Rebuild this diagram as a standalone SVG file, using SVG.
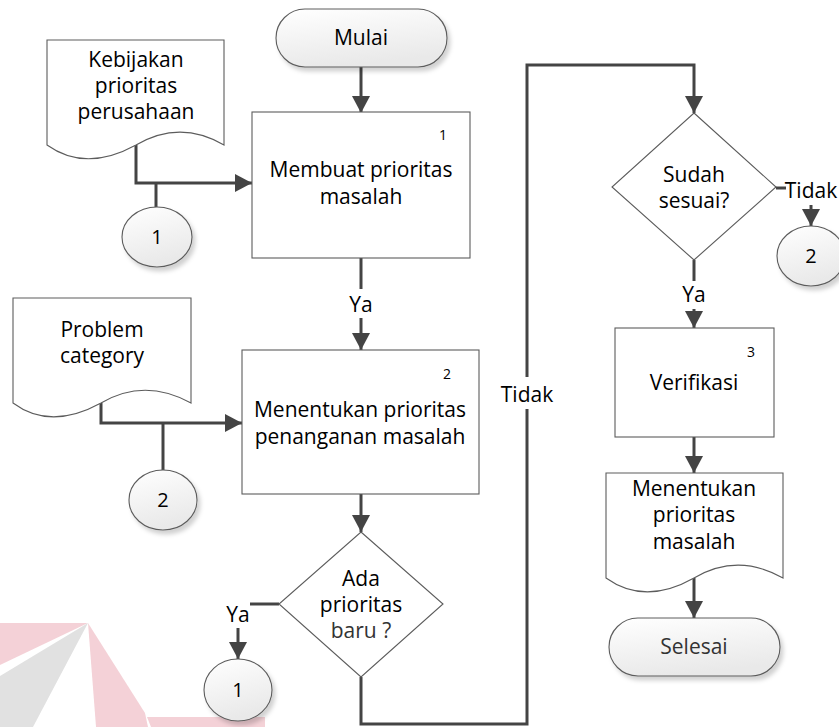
<svg xmlns="http://www.w3.org/2000/svg" width="839" height="727" viewBox="0 0 839 727">
  <defs>
    <linearGradient id="softFill" x1="0" y1="0" x2="0.3" y2="1">
      <stop offset="0" stop-color="#ffffff"/>
      <stop offset="1" stop-color="#e9e9e9"/>
    </linearGradient>
    <filter id="shadow" x="-20%" y="-20%" width="150%" height="160%">
      <feDropShadow dx="3" dy="4" stdDeviation="2" flood-color="#000" flood-opacity="0.18"/>
    </filter>
    <marker id="arrow" markerUnits="userSpaceOnUse" markerWidth="18" markerHeight="18" refX="17" refY="9" orient="auto">
      <path d="M0,0 L17,9 L0,18 Z" fill="#444"/>
    </marker>
  </defs>
  <style>
    .shape { fill: #fff; stroke: #5c5c5c; stroke-width: 1.1; }
    .soft { fill: url(#softFill); stroke: #5c5c5c; stroke-width: 1.1; filter: url(#shadow); }
    .flow { fill: none; stroke: #444; stroke-width: 3; }
    .txt { font-family: "Open Sans", "Liberation Sans", sans-serif; font-size: 21px; fill: #000; text-anchor: middle; }
    .num { font-family: "Open Sans", "Liberation Sans", sans-serif; font-size: 14px; fill: #000; text-anchor: middle; }
    .circ { font-family: "Open Sans", "Liberation Sans", sans-serif; font-size: 20px; fill: #000; text-anchor: middle; }
  </style>

  <!-- faint background logo -->
  <g id="logo" opacity="0.9">
    <polygon points="0,623 88,623 0,665" fill="#f3cdd3"/>
    <polygon points="88,623 0,676 0,727 33,727" fill="#dedede"/>
    <polygon points="88,623 145,713 148,727 96,727" fill="#f3cdd3"/>
    <polygon points="147,717 265,717 265,727 151,727" fill="#f3cdd3"/>
  </g>

  <!-- connectors -->
  <g id="connectors">
    <path class="flow" d="M361,67 V113" marker-end="url(#arrow)"/>
    <path class="flow" d="M136,145 V183 H252" marker-end="url(#arrow)"/>
    <path class="flow" d="M156,183 V207"/>
    <path class="flow" d="M361,258 V289"/>
    <path class="flow" d="M361,318 V350" marker-end="url(#arrow)"/>
    <path class="flow" d="M101,403 V423 H242" marker-end="url(#arrow)"/>
    <path class="flow" d="M163,423 V470"/>
    <path class="flow" d="M361,494 V532" marker-end="url(#arrow)"/>
    <path class="flow" d="M279,604 H250"/>
    <path class="flow" d="M238,628 V659" marker-end="url(#arrow)"/>
    <path class="flow" d="M361,677 V724 H527 V65 H694 V113" marker-end="url(#arrow)"/>
    <path class="flow" d="M776,188 H786"/>
    <path class="flow" d="M811,205 V226" marker-end="url(#arrow)"/>
    <path class="flow" d="M694,260 V281"/>
    <path class="flow" d="M694,309 V328" marker-end="url(#arrow)"/>
    <path class="flow" d="M694,437 V473" marker-end="url(#arrow)"/>
    <path class="flow" d="M694,578 V618" marker-end="url(#arrow)"/>
    <rect x="506" y="377" width="42" height="32" fill="#fff"/>
    <text class="txt" x="361" y="312">Ya</text>
    <text class="txt" x="527" y="402">Tidak</text>
    <text class="txt" x="238" y="622">Ya</text>
    <text class="txt" x="694" y="302">Ya</text>
    <text class="txt" x="811" y="198">Tidak</text>
  </g>

  <g id="start">
    <rect class="soft" x="276" y="9" width="171" height="58" rx="29"/>
    <text class="txt" x="361" y="45">Mulai</text>
  </g>

  <g id="doc-kebijakan">
    <path class="shape" d="M47,40 H224 V145 C195,128 165,128 136,145 C105,162 75,165 47,145 Z"/>
    <text class="txt" x="136" y="67">Kebijakan</text>
    <text class="txt" x="136" y="93">prioritas</text>
    <text class="txt" x="136" y="119">perusahaan</text>
  </g>

  <g id="conn-1a">
    <ellipse class="soft" cx="157" cy="237" rx="35" ry="30"/>
    <text class="circ" x="157" y="244">1</text>
  </g>

  <g id="proc-1">
    <rect class="shape" x="252" y="112" width="218" height="146"/>
    <text class="num" x="443" y="140">1</text>
    <text class="txt" x="361" y="177">Membuat prioritas</text>
    <text class="txt" x="361" y="204">masalah</text>
  </g>

  <g id="doc-problem">
    <path class="shape" d="M13,298 H191 V403 C160,386 130,386 101,403 C70,420 40,423 13,403 Z"/>
    <text class="txt" x="102" y="337">Problem</text>
    <text class="txt" x="102" y="363">category</text>
  </g>

  <g id="conn-2a">
    <ellipse class="soft" cx="163" cy="500" rx="34" ry="30"/>
    <text class="circ" x="163" y="507">2</text>
  </g>

  <g id="proc-2">
    <rect class="shape" x="242" y="350" width="237" height="144"/>
    <text class="num" x="447" y="379">2</text>
    <text class="txt" x="360" y="417">Menentukan prioritas</text>
    <text class="txt" x="360" y="444">penanganan masalah</text>
  </g>

  <g id="dec-1">
    <polygon class="shape" points="361,532 443,604 361,677 279,604"/>
    <text class="txt" x="361" y="586">Ada</text>
    <text class="txt" x="361" y="612">prioritas</text>
    <text class="txt" x="361" y="638" style="fill:#333">baru ?</text>
  </g>

  <g id="conn-1b">
    <ellipse class="soft" cx="238" cy="690" rx="34" ry="31"/>
    <text class="circ" x="238" y="697">1</text>
  </g>

  <g id="dec-2">
    <polygon class="shape" points="694,113 776,187 694,260 612,187"/>
    <text class="txt" x="694" y="182">Sudah</text>
    <text class="txt" x="694" y="208">sesuai?</text>
  </g>

  <g id="conn-2b">
    <ellipse class="soft" cx="811" cy="256" rx="34" ry="30"/>
    <text class="circ" x="811" y="263">2</text>
  </g>

  <g id="proc-3">
    <rect class="shape" x="615" y="328" width="159" height="109"/>
    <text class="num" x="751" y="357">3</text>
    <text class="txt" x="694" y="390">Verifikasi</text>
  </g>

  <g id="doc-hasil">
    <path class="shape" d="M606,473 H783 V578 C753,561 723,561 694,578 C664,595 634,598 606,578 Z"/>
    <text class="txt" x="694" y="496">Menentukan</text>
    <text class="txt" x="694" y="522">prioritas</text>
    <text class="txt" x="694" y="549">masalah</text>
  </g>

  <g id="end">
    <rect class="soft" x="609" y="618" width="171" height="58" rx="29"/>
    <text class="txt" x="694" y="654" style="fill:#333">Selesai</text>
  </g>
</svg>
